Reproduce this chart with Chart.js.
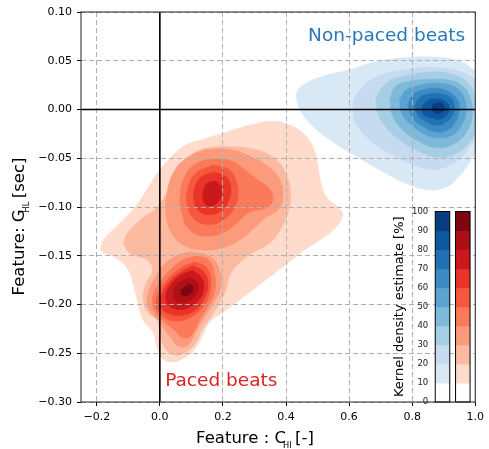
<!DOCTYPE html>
<html>
<head>
<meta charset="utf-8">
<script src="https://cdn.jsdelivr.net/npm/chart.js@4/dist/chart.umd.min.js"></script>
<style>
  body { margin: 0; background: #fff; }
  canvas { display: block; }
</style>
</head>
<body>
<canvas id="kde-chart" width="489" height="449"></canvas>
<script>
// axis ticks
var xTicks = [-0.2, 0.0, 0.2, 0.4, 0.6, 0.8, 1.0];
var xTickLabels = ['\u22120.2', '0.0', '0.2', '0.4', '0.6', '0.8', '1.0'];
var yTicks = [-0.30, -0.25, -0.20, -0.15, -0.10, -0.05, 0.00, 0.05, 0.10];
var yTickLabels = ['\u22120.30', '\u22120.25', '\u22120.20', '\u22120.15', '\u22120.10', '\u22120.05', '0.00', '0.05', '0.10'];

// density bands of the colorbar [%]
var densityLevels = [0, 10, 20, 30, 40, 50, 60, 70, 80, 90, 100];
var bluesColors = ['#ffffff', '#d9e8f5', '#c6dbef', '#a6cee4', '#7fb9da', '#5ba3d0', '#3b8bc2', '#2171b5', '#0d58a1', '#083d7f'];
var redsColors = ['#ffffff', '#fedbcb', '#fcbba1', '#fc9b7c', '#fb7a5a', '#f6583e', '#e83429', '#cb181d', '#ad1117', '#7e0610'];

// paced beats: contour outlines [C_HI, G_HL]
var paced10 = [[-0.189,-0.144],[-0.179,-0.134],[-0.151,-0.124],[-0.107,-0.110],[-0.069,-0.096],[-0.037,-0.080],[-0.005,-0.064],[0.033,-0.050],[0.080,-0.037],[0.143,-0.030],[0.213,-0.023],[0.286,-0.016],[0.358,-0.012],[0.412,-0.016],[0.453,-0.024],[0.485,-0.038],[0.501,-0.057],[0.510,-0.074],[0.529,-0.090],[0.564,-0.100],[0.580,-0.108],[0.554,-0.122],[0.507,-0.134],[0.459,-0.144],[0.412,-0.156],[0.327,-0.177],[0.263,-0.193],[0.200,-0.208],[0.159,-0.218],[0.134,-0.233],[0.108,-0.247],[0.077,-0.255],[0.036,-0.259],[0.007,-0.255],[-0.009,-0.244],[-0.021,-0.229],[-0.053,-0.216],[-0.072,-0.195],[-0.084,-0.180],[-0.103,-0.163],[-0.141,-0.152],[-0.176,-0.147]];
var paced20 = [[-0.116,-0.137],[-0.103,-0.127],[-0.062,-0.113],[-0.009,-0.100],[0.033,-0.079],[0.064,-0.059],[0.105,-0.045],[0.159,-0.039],[0.222,-0.038],[0.286,-0.040],[0.339,-0.045],[0.380,-0.055],[0.403,-0.069],[0.415,-0.086],[0.406,-0.106],[0.380,-0.124],[0.349,-0.137],[0.295,-0.147],[0.254,-0.157],[0.222,-0.170],[0.210,-0.185],[0.184,-0.201],[0.159,-0.214],[0.134,-0.226],[0.115,-0.239],[0.083,-0.249],[0.048,-0.252],[0.017,-0.245],[0.001,-0.231],[-0.009,-0.216],[-0.037,-0.209],[-0.053,-0.195],[-0.046,-0.180],[-0.024,-0.165],[-0.037,-0.155],[-0.069,-0.151],[-0.100,-0.146]];
var paced30Top = [[0.143,-0.041],[0.222,-0.041],[0.286,-0.048],[0.342,-0.058],[0.380,-0.072],[0.390,-0.090],[0.374,-0.103],[0.336,-0.111],[0.301,-0.121],[0.254,-0.134],[0.197,-0.142],[0.134,-0.144],[0.080,-0.140],[0.039,-0.128],[0.020,-0.108],[0.023,-0.085],[0.048,-0.062],[0.089,-0.049]];
var paced30Low = [[0.096,-0.146],[0.153,-0.150],[0.184,-0.160],[0.194,-0.180],[0.172,-0.197],[0.146,-0.211],[0.121,-0.224],[0.102,-0.236],[0.083,-0.243],[0.055,-0.242],[0.036,-0.234],[0.017,-0.227],[0.001,-0.218],[-0.024,-0.210],[-0.040,-0.199],[-0.034,-0.185],[-0.015,-0.173],[0.010,-0.160],[0.052,-0.150]];
var paced40Top = [[0.165,-0.050],[0.229,-0.053],[0.270,-0.062],[0.311,-0.072],[0.349,-0.082],[0.358,-0.093],[0.336,-0.101],[0.286,-0.105],[0.248,-0.115],[0.203,-0.126],[0.143,-0.130],[0.096,-0.124],[0.071,-0.108],[0.064,-0.090],[0.077,-0.070],[0.112,-0.056]];
var paced40Low = [[0.112,-0.150],[0.153,-0.154],[0.172,-0.167],[0.175,-0.185],[0.156,-0.200],[0.131,-0.213],[0.112,-0.225],[0.096,-0.233],[0.071,-0.234],[0.052,-0.228],[0.026,-0.221],[0.001,-0.214],[-0.018,-0.206],[-0.024,-0.195],[-0.009,-0.182],[0.020,-0.169],[0.064,-0.156]];
var paced50Top = [[0.169,-0.057],[0.216,-0.061],[0.241,-0.072],[0.248,-0.088],[0.232,-0.103],[0.197,-0.114],[0.150,-0.118],[0.108,-0.112],[0.086,-0.098],[0.089,-0.080],[0.115,-0.065]];
var paced50Low = [[0.112,-0.156],[0.150,-0.163],[0.162,-0.177],[0.153,-0.193],[0.127,-0.206],[0.093,-0.214],[0.048,-0.217],[0.010,-0.212],[-0.012,-0.202],[-0.005,-0.189],[0.020,-0.176],[0.064,-0.163]];
var paced60Top = [[0.175,-0.064],[0.210,-0.069],[0.225,-0.080],[0.219,-0.093],[0.197,-0.103],[0.159,-0.108],[0.124,-0.104],[0.108,-0.093],[0.112,-0.079],[0.137,-0.068]];
var paced60Low = [[0.105,-0.160],[0.140,-0.167],[0.153,-0.180],[0.140,-0.194],[0.112,-0.206],[0.071,-0.211],[0.026,-0.209],[0.001,-0.201],[0.007,-0.189],[0.033,-0.176],[0.071,-0.166]];
var paced70Top = [[0.172,-0.073],[0.191,-0.077],[0.197,-0.086],[0.184,-0.095],[0.159,-0.099],[0.140,-0.095],[0.137,-0.086],[0.150,-0.076]];
var paced70Low = [[0.102,-0.165],[0.131,-0.172],[0.140,-0.183],[0.124,-0.195],[0.093,-0.203],[0.055,-0.205],[0.023,-0.199],[0.020,-0.189],[0.039,-0.178],[0.071,-0.169]];
var paced80 = [[0.096,-0.172],[0.118,-0.177],[0.121,-0.186],[0.102,-0.194],[0.074,-0.198],[0.048,-0.195],[0.042,-0.187],[0.061,-0.178]];
var paced90 = [[0.093,-0.179],[0.105,-0.182],[0.102,-0.187],[0.083,-0.191],[0.067,-0.189],[0.071,-0.184]];

// non-paced beats
var nonPaced10 = [[0.433,0.010],[0.433,0.017],[0.453,0.025],[0.516,0.034],[0.602,0.041],[0.686,0.049],[0.769,0.053],[0.855,0.054],[0.939,0.051],[0.981,0.044],[1.019,0.031],[1.029,0.000],[1.019,-0.031],[0.986,-0.052],[0.939,-0.072],[0.896,-0.081],[0.844,-0.082],[0.781,-0.076],[0.697,-0.062],[0.623,-0.048],[0.538,-0.031],[0.475,-0.014],[0.444,0.000]];
var nonPaced20 = [[0.618,0.013],[0.655,0.027],[0.707,0.036],[0.781,0.041],[0.865,0.043],[0.939,0.040],[0.986,0.034],[1.019,0.020],[1.026,-0.005],[1.013,-0.026],[0.991,-0.034],[0.959,-0.048],[0.907,-0.059],[0.855,-0.061],[0.791,-0.055],[0.728,-0.045],[0.665,-0.031],[0.623,-0.014],[0.612,0.000]];
var nonPaced30 = [[0.686,0.013],[0.718,0.027],[0.770,0.034],[0.844,0.038],[0.918,0.037],[0.971,0.029],[0.997,0.017],[1.006,0.000],[1.000,-0.021],[0.981,-0.034],[0.939,-0.045],[0.886,-0.049],[0.823,-0.043],[0.760,-0.031],[0.707,-0.014],[0.688,0.000]];
var nonPaced40 = [[0.728,0.010],[0.749,0.024],[0.791,0.029],[0.855,0.031],[0.918,0.030],[0.960,0.024],[0.986,0.010],[0.990,-0.007],[0.971,-0.024],[0.928,-0.036],[0.876,-0.039],[0.823,-0.033],[0.770,-0.021],[0.739,-0.007]];
var nonPaced50 = [[0.760,0.010],[0.781,0.020],[0.823,0.025],[0.876,0.027],[0.928,0.024],[0.960,0.015],[0.971,0.001],[0.960,-0.014],[0.928,-0.026],[0.881,-0.029],[0.833,-0.024],[0.791,-0.014],[0.765,-0.002]];
var nonPaced60 = [[0.786,0.005],[0.802,0.015],[0.833,0.020],[0.876,0.022],[0.918,0.018],[0.944,0.010],[0.949,0.000],[0.939,-0.012],[0.912,-0.021],[0.876,-0.023],[0.833,-0.017],[0.802,-0.009]];
var nonPaced70 = [[0.807,0.003],[0.823,0.012],[0.855,0.016],[0.892,0.016],[0.923,0.012],[0.934,0.003],[0.926,-0.007],[0.902,-0.014],[0.870,-0.016],[0.839,-0.011],[0.818,-0.005]];
var nonPaced80 = [[0.828,0.001],[0.844,0.008],[0.876,0.011],[0.907,0.008],[0.918,0.001],[0.909,-0.006],[0.886,-0.010],[0.855,-0.008],[0.833,-0.004]];
var nonPaced90 = [[0.865,0.005],[0.886,0.007],[0.902,0.003],[0.897,-0.002],[0.876,-0.004],[0.863,0.000]];

// [band index, outline]
var pacedBands = [[1, paced10], [2, paced20], [3, paced30Top], [3, paced30Low], [4, paced40Top], [4, paced40Low],
    [5, paced50Top], [5, paced50Low], [6, paced60Top], [6, paced60Low], [7, paced70Top], [7, paced70Low], [8, paced80], [9, paced90]];
var nonPacedBands = [[1, nonPaced10], [2, nonPaced20], [3, nonPaced30], [4, nonPaced40], [5, nonPaced50],
    [6, nonPaced60], [7, nonPaced70], [8, nonPaced80], [9, nonPaced90]];

Chart.defaults.font.family = 'DejaVu Sans';
Chart.defaults.font.size = 11;
Chart.defaults.color = '#000';

function contour(band, outline, colors) {
    var pts = outline.concat([outline[0]]).map(function (p) { return {x: p[0], y: p[1]}; });
    return {
        data: pts,
        showLine: true,
        fill: 'shape',
        backgroundColor: colors[band],
        borderColor: colors[band],
        borderWidth: 0.5,
        pointRadius: 0,
        tension: 0.45,
        clip: 0,
        order: 20 - band
    };
}

var datasets = [];
pacedBands.forEach(function (b) { datasets.push(contour(b[0], b[1], redsColors)); });
nonPacedBands.forEach(function (b) { datasets.push(contour(b[0], b[1], bluesColors)); });

var bigFont = '16.5px "DejaVu Sans"';
var subFont = '8.2px "DejaVu Sans"';

// label with a subscript in the middle: [main, sub, tail]
function drawSubLabel(ctx, parts, cx, cy, angle) {
    ctx.save();
    ctx.translate(cx, cy);
    ctx.rotate(angle);
    ctx.fillStyle = '#000';
    ctx.textAlign = 'left';
    ctx.textBaseline = 'alphabetic';
    ctx.font = bigFont;
    var w1 = ctx.measureText(parts[0]).width;
    var w3 = ctx.measureText(parts[2]).width;
    ctx.font = subFont;
    var w2 = ctx.measureText(parts[1]).width;
    var total = w1 - 3 + w2 + 3.5 + w3;
    var x0 = -total / 2;
    ctx.font = bigFont;
    ctx.fillText(parts[0], x0, 0);
    ctx.font = subFont;
    ctx.fillText(parts[1], x0 + w1 - 3, 4.7);
    ctx.font = bigFont;
    ctx.fillText(parts[2], x0 + w1 - 3 + w2 + 3.5, 0);
    ctx.restore();
}

var overlay = {
    id: 'overlay',
    afterDraw: function (chart) {
        var ctx = chart.ctx, a = chart.chartArea;
        var xs = chart.scales.x, ys = chart.scales.y;
        ctx.save();

        // zero lines
        ctx.strokeStyle = '#000';
        ctx.lineWidth = 1.6;
        ctx.beginPath();
        ctx.moveTo(xs.getPixelForValue(0), a.top);
        ctx.lineTo(xs.getPixelForValue(0), a.bottom);
        ctx.moveTo(a.left, ys.getPixelForValue(0));
        ctx.lineTo(a.right, ys.getPixelForValue(0));
        ctx.stroke();

        // colorbars
        var cbBottom = a.bottom, cbH = 190.5, step = cbH / 10;
        [[a.right - 40, bluesColors], [a.right - 19.7, redsColors]].forEach(function (bar) {
            for (var i = 0; i < 10; i++) {
                ctx.fillStyle = bar[1][i];
                ctx.fillRect(bar[0], cbBottom - (i + 1) * step, 14.5, step + 0.5);
            }
            ctx.strokeStyle = '#000';
            ctx.lineWidth = 1;
            ctx.strokeRect(bar[0], cbBottom - cbH, 14.5, cbH);
        });
        ctx.fillStyle = '#222';
        ctx.font = '8.5px "DejaVu Sans"';
        ctx.textAlign = 'right';
        ctx.textBaseline = 'middle';
        densityLevels.forEach(function (lv, i) {
            ctx.fillText(String(lv), a.right - 47, cbBottom - i * step);
        });
        ctx.save();
        ctx.translate(a.right - 72, cbBottom - cbH / 2);
        ctx.rotate(-Math.PI / 2);
        ctx.textAlign = 'center';
        ctx.textBaseline = 'alphabetic';
        ctx.font = '13px "DejaVu Sans"';
        ctx.fillStyle = '#000';
        ctx.fillText('Kernel density estimate [%]', 0, 0);
        ctx.restore();

        // frame
        ctx.strokeStyle = '#222';
        ctx.lineWidth = 1;
        ctx.strokeRect(a.left, a.top, a.right - a.left, a.bottom - a.top);

        // group names
        ctx.textAlign = 'left';
        ctx.textBaseline = 'alphabetic';
        ctx.font = '18.5px "DejaVu Sans"';
        ctx.fillStyle = '#2979b9';
        ctx.fillText('Non-paced beats', xs.getPixelForValue(0.470), ys.getPixelForValue(0.0698));
        ctx.fillStyle = '#d92523';
        ctx.fillText('Paced beats', xs.getPixelForValue(0.017), ys.getPixelForValue(-0.284));

        // axis titles
        drawSubLabel(ctx, ['Feature : C', 'HI', '[-]'], a.left + 174, a.bottom + 41, 0);
        drawSubLabel(ctx, ['Feature: G', 'HL', '[sec]'], a.left - 57, a.top + 214.5, -Math.PI / 2);

        ctx.restore();
    }
};

new Chart(document.getElementById('kde-chart'), {
    type: 'scatter',
    data: { datasets: datasets },
    options: {
        responsive: false,
        animation: false,
        events: [],
        layout: { padding: { top: 12, right: 13, left: 0, bottom: 0 } },
        plugins: {
            legend: { display: false },
            tooltip: { enabled: false }
        },
        scales: {
            x: {
                type: 'linear',
                min: -0.25,
                max: 1.0,
                afterBuildTicks: function (s) { s.ticks = xTicks.map(function (v) { return {value: v}; }); },
                afterFit: function (s) { s.height = 47; },
                ticks: {
                    autoSkip: false,
                    maxRotation: 0,
                    padding: 5,
                    color: '#000',
                    callback: function (v, i) { return xTickLabels[i]; }
                },
                grid: { color: '#b0b0b0', lineWidth: 1, z: 1, tickLength: 4, tickColor: '#000', tickWidth: 1, tickBorderDash: [] },
                border: { display: false, dash: [5, 3] }
            },
            y: {
                type: 'linear',
                min: -0.30,
                max: 0.10,
                afterBuildTicks: function (s) { s.ticks = yTicks.map(function (v) { return {value: v}; }); },
                afterFit: function (s) { s.width = 81; },
                ticks: {
                    autoSkip: false,
                    padding: 5,
                    color: '#000',
                    callback: function (v, i) { return yTickLabels[i]; }
                },
                grid: { color: '#b0b0b0', lineWidth: 1, z: 1, tickLength: 4, tickColor: '#000', tickWidth: 1, tickBorderDash: [] },
                border: { display: false, dash: [5, 3] }
            }
        }
    },
    plugins: [overlay]
});
</script>
</body>
</html>
